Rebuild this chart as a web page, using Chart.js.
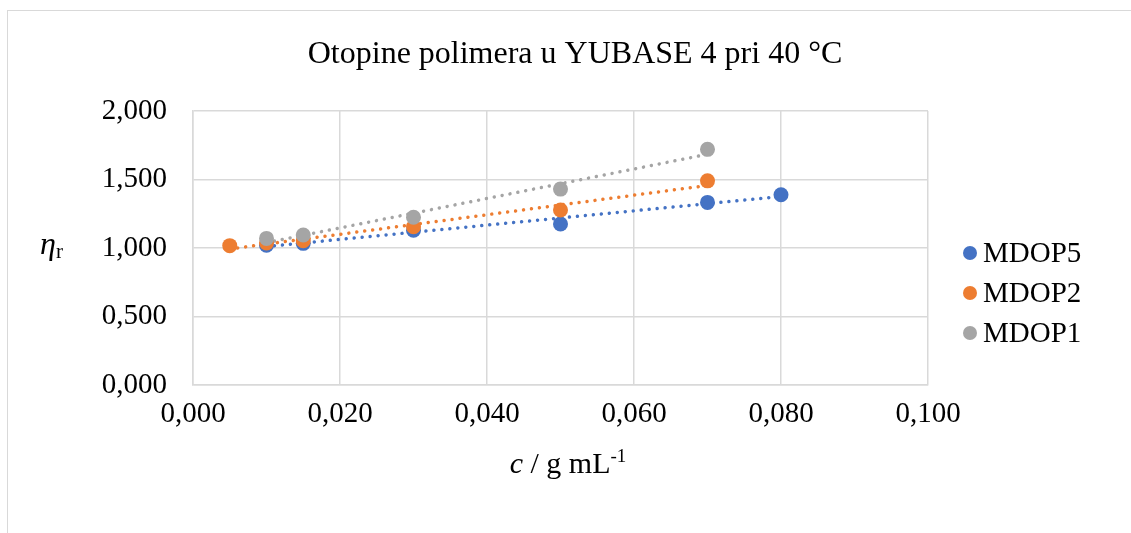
<!DOCTYPE html>
<html>
<head>
<meta charset="utf-8">
<script src="https://cdn.jsdelivr.net/npm/chart.js@4/dist/chart.umd.min.js"></script>
<style>
  body { margin: 0; background: #fff; overflow: hidden; }
  #frame { position: absolute; left: 7px; top: 10px; width: 1200px; height: 600px; border: 1px solid #D9D9D9; }
  #myChart { position: absolute; left: 0; top: 0; }
</style>
</head>
<body>
<div id="frame"></div>
<canvas id="myChart" width="1131" height="533"></canvas>
<script>
const seriesNames = ['MDOP5', 'MDOP2', 'MDOP1'];
const seriesColors = ['#4472C4', '#ED7D31', '#A5A5A5'];

const mdop5X = [0.010, 0.015, 0.030, 0.050, 0.070, 0.080];
const mdop5Y = [1.020, 1.034, 1.130, 1.175, 1.333, 1.389];

const mdop2X = [0.005, 0.010, 0.015, 0.030, 0.050, 0.070];
const mdop2Y = [1.017, 1.036, 1.053, 1.155, 1.277, 1.490];

const mdop1X = [0.010, 0.015, 0.030, 0.050, 0.070];
const mdop1Y = [1.070, 1.095, 1.224, 1.430, 1.720];

const xTicks = [0, 0.02, 0.04, 0.06, 0.08, 0.1];
const yTicks = [0, 0.5, 1.0, 1.5, 2.0];

const allX = [mdop5X, mdop2X, mdop1X];
const allY = [mdop5Y, mdop2Y, mdop1Y];

function toPoints(xs, ys) {
  return xs.map((x, i) => ({ x: x, y: ys[i] }));
}

// linear trendline (least squares) over the series' own x range
function trend(xs, ys) {
  const n = xs.length;
  const mx = xs.reduce((a, b) => a + b, 0) / n;
  const my = ys.reduce((a, b) => a + b, 0) / n;
  let sxy = 0, sxx = 0;
  for (let i = 0; i < n; i++) {
    sxy += (xs[i] - mx) * (ys[i] - my);
    sxx += (xs[i] - mx) * (xs[i] - mx);
  }
  const k = sxy / sxx;
  const b = my - k * mx;
  const x0 = Math.min(...xs), x1 = Math.max(...xs);
  return [{ x: x0, y: k * x0 + b }, { x: x1, y: k * x1 + b }];
}

const fmt = v => Number(v).toFixed(3).replace('.', ',');
const serif = "'Liberation Serif', 'Times New Roman', serif";

const datasets = [];
// points: later series on top (lower order = drawn last)
seriesNames.forEach((name, i) => {
  datasets.push({
    label: name,
    data: toPoints(allX[i], allY[i]),
    backgroundColor: seriesColors[i],
    borderColor: seriesColors[i],
    pointRadius: 7.5,
    pointHoverRadius: 7.5,
    borderWidth: 0,
    order: 2 - i
  });
});
seriesNames.forEach((name, i) => {
  datasets.push({
    label: name + ' trend',
    type: 'line',
    data: trend(allX[i], allY[i]),
    borderColor: seriesColors[i],
    borderWidth: 3.5,
    borderDash: [0.01, 8],
    borderCapStyle: 'round',
    pointRadius: 0,
    fill: false,
    order: 10 + i
  });
});

const textPlugin = {
  id: 'texts',
  afterDraw(chart) {
    const ctx = chart.ctx;
    ctx.save();
    ctx.fillStyle = '#000';

    // title
    ctx.font = '32px ' + serif;
    ctx.textAlign = 'center';
    ctx.textBaseline = 'middle';
    ctx.fillText('Otopine polimera u YUBASE 4 pri 40 °C', 575, 55);

    // y axis title: eta with subscript r
    ctx.textAlign = 'left';
    ctx.textBaseline = 'alphabetic';
    ctx.font = 'italic 32px ' + serif;
    ctx.fillText('η', 40, 254);
    const wEta = ctx.measureText('η').width;
    ctx.font = '21px ' + serif;
    ctx.fillText('r', 40 + wEta, 258);

    // x axis title: c / g mL^-1
    const parts = [
      { t: 'c', f: 'italic 30px ' + serif, dy: 0 },
      { t: ' / g mL', f: '30px ' + serif, dy: 0 },
      { t: '-1', f: '19px ' + serif, dy: -11 }
    ];
    let total = 0;
    parts.forEach(p => { ctx.font = p.f; p.w = ctx.measureText(p.t).width; total += p.w; });
    let x = 568 - total / 2;
    parts.forEach(p => {
      ctx.font = p.f;
      ctx.fillText(p.t, x, 473 + p.dy);
      x += p.w;
    });

    // legend
    ctx.font = '29px ' + serif;
    ctx.textBaseline = 'middle';
    seriesNames.forEach((name, i) => {
      const y = 253 + i * 40;
      ctx.beginPath();
      ctx.fillStyle = seriesColors[i];
      ctx.arc(970, y, 7, 0, Math.PI * 2);
      ctx.fill();
      ctx.fillStyle = '#000';
      ctx.fillText(name, 983, y + 1);
    });
    ctx.restore();
  }
};

const config = {
  type: 'scatter',
  data: { datasets: datasets },
  options: {
    responsive: false,
    animation: false,
    layout: { padding: { top: 111, right: 203, left: 0, bottom: 0 } },
    plugins: {
      legend: { display: false },
      title: { display: false },
      tooltip: { enabled: false }
    },
    scales: {
      x: {
        type: 'linear',
        min: 0,
        max: 0.1,
        afterFit: s => { s.height = 148; },
        afterBuildTicks: s => { s.ticks = xTicks.map(v => ({ value: v })); },
        ticks: { callback: fmt, color: '#000', padding: 12, maxRotation: 0, font: { family: serif, size: 29 } },
        grid: { color: '#D9D9D9', lineWidth: 1.5, drawTicks: false },
        border: { color: '#D9D9D9', width: 1.5 }
      },
      y: {
        type: 'linear',
        min: 0,
        max: 2,
        afterFit: s => { s.width = 193; },
        afterBuildTicks: s => { s.ticks = yTicks.map(v => ({ value: v })); },
        ticks: { callback: fmt, color: '#000', padding: 26, font: { family: serif, size: 29 } },
        grid: { color: '#D9D9D9', lineWidth: 1.5, drawTicks: false },
        border: { color: '#D9D9D9', width: 1.5 }
      }
    }
  },
  plugins: [textPlugin]
};

const ctx = document.getElementById('myChart').getContext('2d');
const myChart = new Chart(ctx, config);
</script>
</body>
</html>
